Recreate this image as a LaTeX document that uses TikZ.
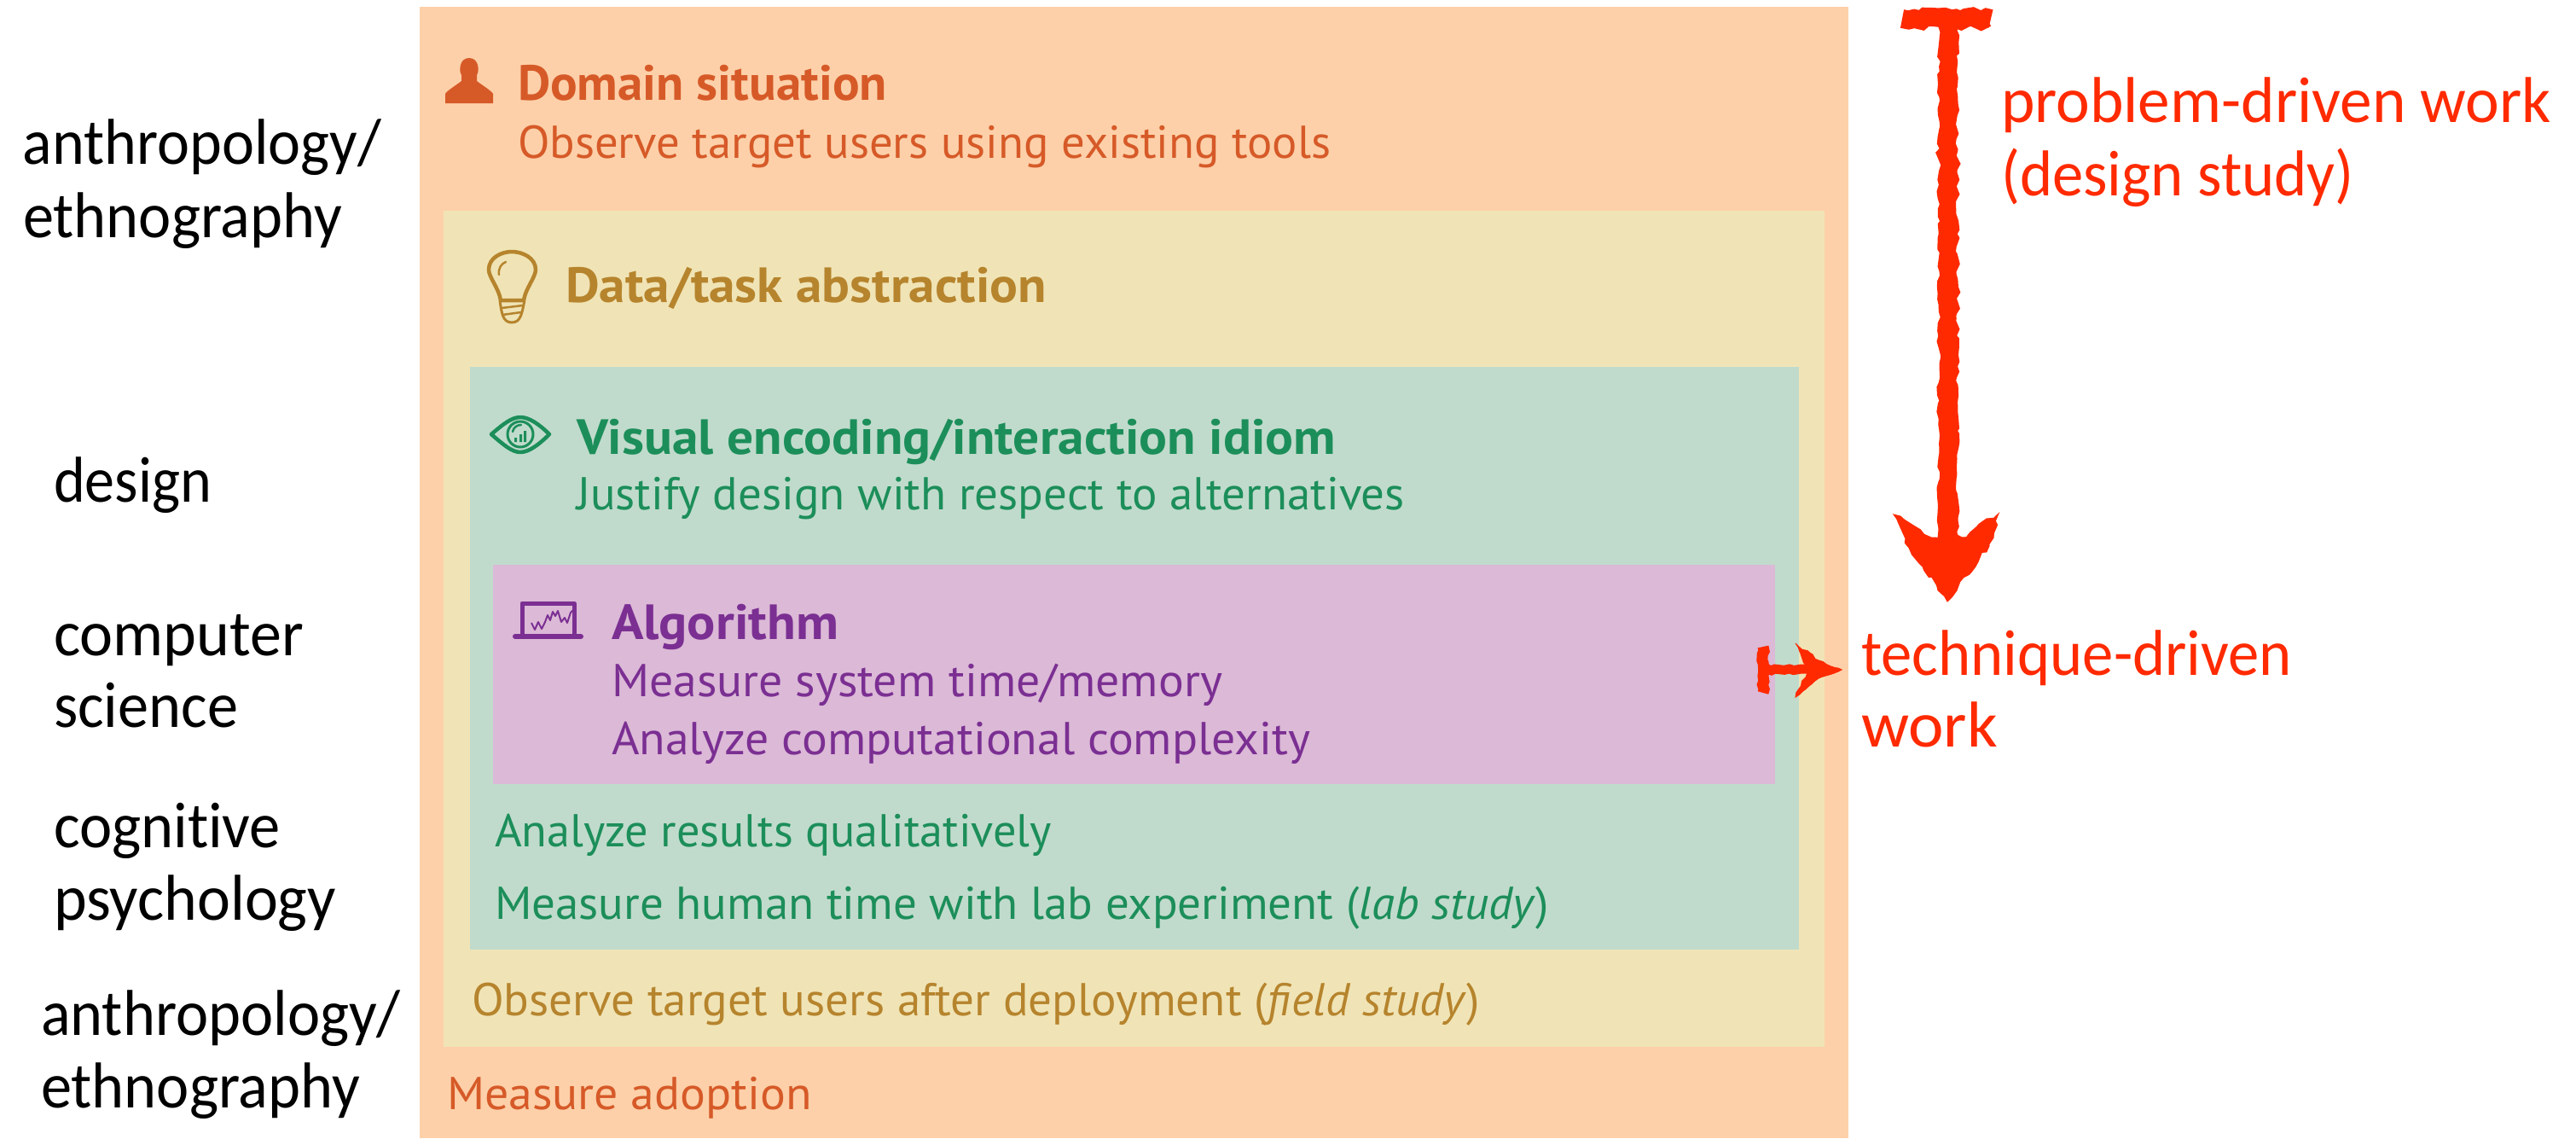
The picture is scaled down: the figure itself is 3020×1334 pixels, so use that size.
\documentclass[tikz,border=0pt]{standalone}
\usepackage{fontspec}
\usepackage{graphicx}
\setmainfont{PT Sans}
\newfontfamily\gill[Ligatures=NoCommon]{Carlito}
\usetikzlibrary{decorations.pathmorphing}
\definecolor{bgorange}{HTML}{FDD0A9}
\definecolor{bgyellow}{HTML}{F0E4B6}
\definecolor{bggreen}{HTML}{C0DBCC}
\definecolor{bgpurple}{HTML}{DBB9D7}
\definecolor{txorange}{HTML}{D65A28}
\definecolor{txyellow}{HTML}{B6842D}
\definecolor{txgreen}{HTML}{1C8E5A}
\definecolor{txpurple}{HTML}{7B2F92}
\definecolor{sketchred}{HTML}{FF2A00}
\newcommand{\fitw}[2]{\resizebox{#1pt}{\height}{#2}}
\tikzset{
  x=1pt,y=-1pt,
  lbl/.style={anchor=base west,inner sep=0pt,outer sep=0pt},
  body/.style={lbl,font=\fontsize{54}{60}\selectfont},
  head/.style={lbl,font=\fontsize{58}{60}\selectfont\bfseries},
  side/.style={lbl,font=\gill\fontsize{76}{80}\selectfont,text=black},
  note/.style={lbl,font=\gill\fontsize{76}{80}\selectfont,text=sketchred},
  roughline/.style={draw=sketchred,line cap=butt,decorate,decoration={random steps,segment length=7pt,amplitude=2.5pt}},
  roughfill/.style={fill=sketchred,draw=sketchred,line width=1pt,decorate,decoration={random steps,segment length=7pt,amplitude=3pt}},
  iconline/.style={line width=4.5pt,fill=none,line join=round},
}
\begin{document}
\begin{tikzpicture}
\useasboundingbox (0,0) rectangle (3020,1334);
\pgfmathsetseed{42}
% panels
\fill[bgorange] (492,8) rectangle (2167,1334);
\fill[bgyellow] (520,247) rectangle (2139,1227);
\fill[bggreen] (551,430) rectangle (2109,1113);
\fill[bgpurple] (578,662) rectangle (2081,919);
% text in panels
\node[head,text=txorange] (t1) at (607,117) {\fitw{433}{Domain situation}};
\node[body,text=txorange] (t2) at (607,185) {\fitw{953}{Observe target users using existing tools}};
\node[head,text=txyellow] (t3) at (663,354) {\fitw{564}{Data/task abstraction}};
\node[head,text=txgreen] (t4) at (676,532) {\fitw{890}{Visual encoding/interaction idiom}};
\node[body,text=txgreen] (t5) at (676,597) {\fitw{971}{Justify design with respect to alternatives}};
\node[head,text=txpurple] (t6) at (717,749) {\fitw{266}{Algorithm}};
\node[body,text=txpurple] (t7) at (717,816) {\fitw{716}{Measure system time/memory}};
\node[body,text=txpurple] (t8) at (717,884) {\fitw{819}{Analyze computational complexity}};
\node[body,text=txgreen] (t9) at (580,992) {\fitw{653}{Analyze results qualitatively}};
\node[body,text=txgreen] (t10) at (580,1077) {\fitw{1236}{Measure human time with lab experiment (\textit{lab study})}};
\node[body,text=txyellow] (t11) at (553,1190) {\fitw{1182}{Observe target users after deployment (\textit{field study})}};
\node[body,text=txorange] (t12) at (524,1300) {\fitw{428}{Measure adoption}};
% side labels
\node[side] (s1) at (27,192) {\fitw{420}{anthropology/}};
\node[side] (s2) at (27,278) {\fitw{374}{ethnography}};
\node[side] (s3) at (63,588) {\fitw{185}{design}};
\node[side] (s4) at (63,768) {\fitw{293}{computer}};
\node[side] (s5) at (63,852) {\fitw{216}{science}};
\node[side] (s6) at (63,993) {\fitw{266}{cognitive}};
\node[side] (s7) at (63,1078) {\fitw{331}{psychology}};
\node[side] (s8) at (48,1213) {\fitw{422}{anthropology/}};
\node[side] (s9) at (48,1298) {\fitw{374}{ethnography}};
% notes
\node[note] (n1) at (2346,143) {\fitw{645}{problem-driven work}};
\node[note] (n2) at (2346,229) {\fitw{414}{(design study)}};
\node[note] (n3) at (2182,791) {\fitw{505}{technique-driven}};
\node[note] (n4) at (2182,875) {\fitw{160}{work}};
% person icon
\fill[txorange] (522,121) -- (522,110) .. controls (523,107) and (536,99) .. (541,95) -- (541,88)
  .. controls (538,84) and (538,68) .. (550,68) .. controls (562,68) and (562,84) .. (559,88) -- (559,95)
  .. controls (564,99) and (577,107) .. (578,110) -- (578,121) -- cycle;
% bulb icon
\draw[txyellow,iconline] (587,352) .. controls (585,338) and (573,325) .. (573,316)
  .. controls (573,302) and (588,295) .. (600,295) .. controls (612,295) and (628,302) .. (628,316)
  .. controls (628,325) and (616,338) .. (614,352) -- cycle;
\draw[txyellow,line width=3pt] (586,352) .. controls (588,366) and (589,378) .. (600,378) .. controls (611,378) and (612,366) .. (615,352);
\draw[txyellow,line width=2.5pt] (588,361) -- (613,358) (589,369) -- (611,366);
\draw[txyellow,line width=2.5pt,line cap=round] (585,322) .. controls (584,314) and (588,309) .. (593,307);
% eye icon
\draw[txgreen,iconline] (576,509) .. controls (590,497) and (600,489) .. (610,489)
  .. controls (620,489) and (632,497) .. (644,509) .. controls (632,521) and (620,530) .. (610,530)
  .. controls (600,530) and (590,521) .. (576,509) -- cycle;
\draw[txgreen,line width=3pt] (610,509) circle (15);
\draw[txgreen,line width=2.5pt,line cap=round] (601,506) .. controls (602,501) and (606,498) .. (611,498);
\fill[txgreen] (603,513) rectangle (606,518) (609,509) rectangle (612,518) (614,505) rectangle (617,518);
% laptop icon
\draw[txpurple,line width=5pt,fill=none,line join=round] (612,743) -- (612,707) -- (673,707) -- (673,743);
\draw[txpurple,line width=6pt,line cap=round] (604,746) -- (681,746);
\draw[txpurple,line width=2pt,line join=round] (623,730) -- (627,738) -- (631,729) -- (635,737) -- (639,729) -- (642,721) -- (645,727) -- (648,717) -- (651,722) -- (654,716) -- (658,729) -- (662,724) -- (665,730) -- (669,718) -- (672,715);
% sketch arrow 1
\coordinate (a1s) at (2284,22);
\coordinate (a1e) at (2284,650);
\coordinate (a1t) at (2283,705);
\coordinate (b1l) at (2230,22);
\coordinate (b1r) at (2334,22);
\draw[roughline,line width=22pt] (b1l) -- (b1r);
\draw[roughline,line width=18pt] ([xshift=-2pt]a1s) -- ([xshift=-2pt]a1e);
\draw[roughline,line width=18pt] ([xshift=2pt]a1s) -- ([xshift=2pt]a1e);
\filldraw[roughfill] (2220,603) -- (2264,630) -- (2300,630) -- (2343,602) -- (2332,640) -- (2294,692) -- (a1t) -- (2272,692) -- (2238,642) -- cycle;
% sketch arrow 2
\coordinate (a2s) at (2067,785);
\coordinate (a2e) at (2135,785);
\coordinate (a2t) at (2159,785);
\coordinate (b2t) at (2067,758);
\coordinate (b2b) at (2067,812);
\draw[roughline,line width=13pt,decoration={random steps,segment length=5pt,amplitude=1.2pt}] (b2t) -- (b2b);
\draw[roughline,line width=11pt,decoration={random steps,segment length=5pt,amplitude=1.2pt}] (a2s) -- (a2e);
\filldraw[roughfill,decoration={random steps,segment length=5pt,amplitude=1.5pt}] (2105,754) -- (2132,774) -- (a2t) -- (2132,795) -- (2105,817) -- (2120,785) -- cycle;
\end{tikzpicture}
\end{document}
